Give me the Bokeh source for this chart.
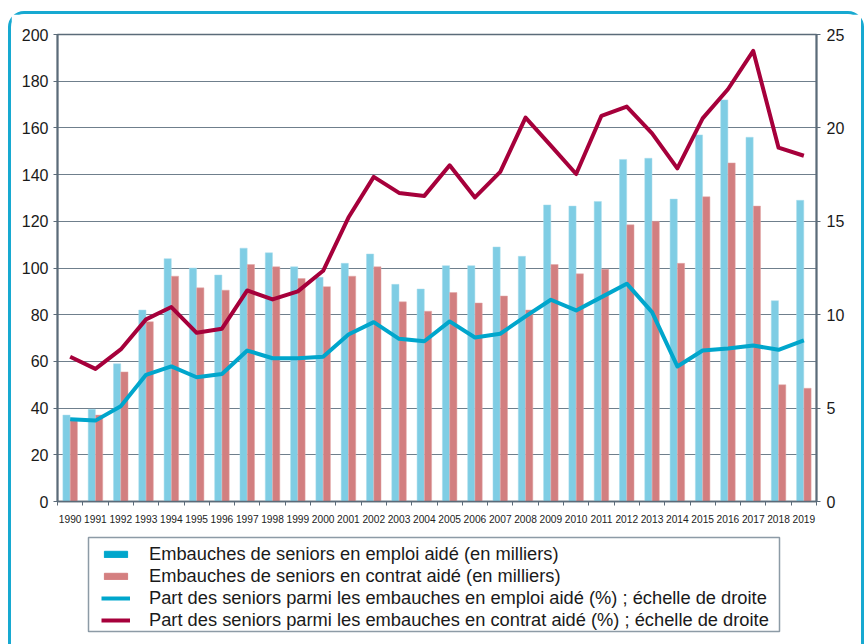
from bokeh.plotting import figure
from bokeh.layouts import column
from bokeh.models import (Range1d, LinearAxis, FixedTicker, Legend, LegendItem,
                          ColumnDataSource)
from bokeh.transform import dodge
from bokeh.embed import file_html
from bokeh.resources import INLINE

years = ["1990", "1991", "1992", "1993", "1994", "1995", "1996", "1997", "1998", "1999",
         "2000", "2001", "2002", "2003", "2004", "2005", "2006", "2007", "2008", "2009",
         "2010", "2011", "2012", "2013", "2014", "2015", "2016", "2017", "2018", "2019"]

# Embauches de seniors en emploi aidé (milliers)
emploi = [37, 39.5, 59, 82, 104, 100, 97, 108.5, 106.5, 100.5,
          96, 102, 106, 93, 91, 101, 101, 109, 105, 127,
          126.5, 128.5, 146.5, 147, 129.5, 157, 172, 156, 86, 129]
# Embauches de seniors en contrat aidé (milliers)
contrat = [35, 37, 55.5, 77, 96.5, 91.5, 90.5, 101.5, 100.5, 95.5,
           92, 96.5, 100.5, 85.5, 81.5, 89.5, 85, 88, 82, 101.5,
           97.5, 99.5, 118.5, 120, 102, 130.5, 145, 126.5, 50, 48.5]
# Part des seniors parmi les embauches en emploi aidé (%)
part_emploi = [4.4, 4.33, 5.1, 6.78, 7.23, 6.65, 6.83, 8.08, 7.67, 7.67,
               7.75, 8.94, 9.6, 8.71, 8.58, 9.64, 8.78, 8.98, 9.91, 10.8,
               10.23, 10.94, 11.66, 10.14, 7.23, 8.08, 8.19, 8.35, 8.12, 8.62]
# Part des seniors parmi les embauches en contrat aidé (%)
part_contrat = [7.75, 7.1, 8.14, 9.75, 10.41, 9.03, 9.25, 11.3, 10.82, 11.25,
                12.35, 15.2, 17.38, 16.52, 16.36, 18.0, 16.28, 17.65, 20.55, 19.05,
                17.53, 20.65, 21.14, 19.71, 17.83, 20.51, 22.07, 24.12, 18.94, 18.51]

left_ticks = [0, 20, 40, 60, 80, 100, 120, 140, 160, 180, 200]
right_ticks = [0, 5, 10, 15, 20, 25]

labels = ["Embauches de seniors en emploi aidé (en milliers)",
          "Embauches de seniors en contrat aidé (en milliers)",
          "Part des seniors parmi les embauches en emploi aidé (%) ; échelle de droite",
          "Part des seniors parmi les embauches en contrat aidé (%) ; échelle de droite"]

idx = list(range(len(years)))
src = ColumnDataSource(dict(x=idx, emploi=emploi, contrat=contrat,
                            pe=part_emploi, pc=part_contrat))

FONT = "Liberation Sans"
AX = "#5b6b79"
C_BAR_BLUE = "#7fcde4"
C_BAR_RED = "#d27f80"
C_LINE_BLUE = "#00a6cc"
C_LINE_RED = "#a6003b"

# ---------------- main chart ----------------
p = figure(width=850, height=517, x_range=Range1d(-0.5, len(years) - 0.5),
           y_range=Range1d(0, 200), output_backend="svg", toolbar_location=None,
           min_border_left=46, min_border_right=45, min_border_top=20,
           min_border_bottom=30, frame_align=False)
p.extra_y_ranges = {"right": Range1d(0, 25)}

p.vbar(x=dodge("x", -0.145, range=p.x_range), top="emploi", width=0.285,
       source=src, fill_color=C_BAR_BLUE, line_color="#a8dcec", line_width=0.5)
p.vbar(x=dodge("x", 0.145, range=p.x_range), top="contrat", width=0.285,
       source=src, fill_color=C_BAR_RED, line_color="#e2a8a8", line_width=0.5)
p.line(x="x", y="pe", source=src, y_range_name="right", line_width=4,
       line_color=C_LINE_BLUE, line_join="round")
p.line(x="x", y="pc", source=src, y_range_name="right", line_width=4,
       line_color=C_LINE_RED, line_join="round")

xa = p.xaxis[0]
xa.ticker = FixedTicker(ticks=idx, minor_ticks=[i - 0.5 for i in range(len(years) + 1)])
xa.major_label_overrides = {i: y for i, y in zip(idx, years)}
xa.major_tick_out = 0
xa.major_tick_in = 0
xa.minor_tick_out = 4
xa.minor_tick_in = 0
xa.minor_tick_line_color = AX
xa.axis_line_color = AX
xa.axis_line_width = 1.5
xa.major_label_text_font = FONT
xa.major_label_text_font_size = "10.2px"
xa.major_label_text_color = "#222222"
xa.major_label_standoff = 9

ya = p.yaxis[0]
ya.ticker = FixedTicker(ticks=left_ticks, minor_ticks=[])
ya.major_tick_out = 4
ya.major_tick_in = 0
ya.major_tick_line_color = AX
ya.axis_line_color = AX
ya.axis_line_width = 2
ya.major_label_text_font = FONT
ya.major_label_text_font_size = "16px"
ya.major_label_text_color = "#1a1a1a"
ya.major_label_standoff = 5

ra = LinearAxis(y_range_name="right", ticker=FixedTicker(ticks=right_ticks, minor_ticks=[]))
ra.major_tick_out = 4
ra.major_tick_in = 0
ra.major_tick_line_color = AX
ra.axis_line_color = AX
ra.axis_line_width = 2
ra.major_label_text_font = FONT
ra.major_label_text_font_size = "16px"
ra.major_label_text_color = "#1a1a1a"
ra.major_label_standoff = 6
p.add_layout(ra, "right")

p.xgrid.visible = False
p.ygrid.ticker = FixedTicker(ticks=left_ticks, minor_ticks=[])
p.ygrid.grid_line_color = "#6f7f8c"
p.ygrid.grid_line_width = 1
p.outline_line_color = AX
p.outline_line_width = 1.5

# ---------------- legend panel ----------------
q = figure(width=850, height=113, x_range=Range1d(0, 1), y_range=Range1d(0, 1),
           output_backend="svg", toolbar_location=None,
           x_axis_location=None, y_axis_location=None,
           min_border_left=77, min_border_right=82, min_border_top=6,
           min_border_bottom=13, frame_align=False)
q.grid.visible = False
q.outline_line_color = "#8d9ba6"
q.outline_line_width = 1.5

# legend swatch renderers: one point each, kept outside the visible range
off_x = [-5]
off_y = [-5]
sw_blue = q.vbar(x=off_x, top=off_y, width=0.1, fill_color=C_LINE_BLUE, line_color=C_LINE_BLUE)
sw_red = q.vbar(x=off_x, top=off_y, width=0.1, fill_color="#d47f80", line_color="#d47f80")
sl_blue = q.line(x=off_x, y=off_y, line_width=4, line_color=C_LINE_BLUE)
sl_red = q.line(x=off_x, y=off_y, line_width=4, line_color=C_LINE_RED)

legend = Legend(items=[LegendItem(label=labels[0], renderers=[sw_blue]),
                       LegendItem(label=labels[1], renderers=[sw_red]),
                       LegendItem(label=labels[2], renderers=[sl_blue]),
                       LegendItem(label=labels[3], renderers=[sl_red])],
                location=(13, 0), orientation="vertical",
                padding=0, margin=0, spacing=0, label_height=22,
                glyph_height=8, glyph_width=29, label_standoff=19,
                label_text_font=FONT, label_text_font_size="18.3px",
                label_text_color="#1a1a1a",
                background_fill_alpha=0, border_line_alpha=0)
q.add_layout(legend, "center")

teal = "3px solid #17a9d1"
layout = column(p, q, spacing=0, margin=(11, 0, 0, 8),
                styles={"border-top": teal, "border-left": teal, "border-right": teal,
                        "border-top-left-radius": "16px",
                        "border-top-right-radius": "16px"})

open("out.html", "w").write(file_html(layout, INLINE))
